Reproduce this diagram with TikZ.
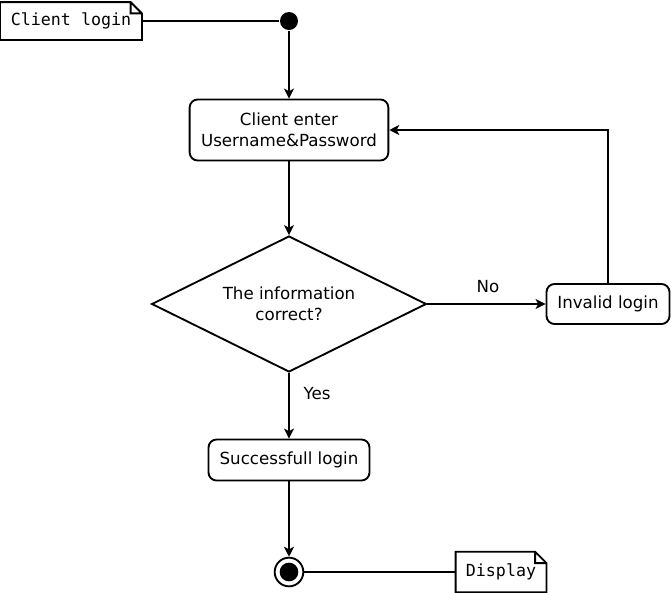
\documentclass[tikz,border=0pt]{standalone}
\usepackage{fontspec}
\setmainfont{DejaVu Sans}
\newfontfamily\notefont{DejaVu Sans Mono}
\usetikzlibrary{shapes.geometric,arrows.meta}
\tikzset{
  state/.style={draw, rounded corners=6pt, align=center, inner sep=0pt},
  decision/.style={draw, diamond, aspect=2, align=center, inner sep=0pt,
    minimum width=206pt, minimum height=102pt},
  initial/.style={circle, fill=black, inner sep=0pt, minimum size=13.5pt},
  final/.style={circle, draw, fill=white, inner sep=0pt, minimum size=21.5pt,
    path picture={\fill[black] (path picture bounding box.center) circle (7pt);}},
  note/.style={font=\notefont\fontsize{12.5}{15}\selectfont, inner sep=0pt,
    append after command={\pgfextra{\draw[line width=1.4pt, line join=miter]
      (\tikzlastnode.south west) -- (\tikzlastnode.north west)
      -- ([xshift=-8.5pt]\tikzlastnode.north east)
      -- ([yshift=-8.5pt]\tikzlastnode.north east)
      -- (\tikzlastnode.south east) -- cycle
      ([xshift=-8.5pt]\tikzlastnode.north east)
      |- ([yshift=-8.5pt]\tikzlastnode.north east);}}}
}
\begin{document}
\begin{tikzpicture}[x=0.75pt, y=-0.75pt, line width=1.4pt,
  font=\fontsize{12.5}{15.75}\selectfont]
  \useasboundingbox (0,0) rectangle (672,593);
  \draw
    (71,21) node[note, minimum width=105pt, minimum height=27pt] (clientnote){Client login}
    (289,21) node[initial] (start){}
    (289,130) node[state, minimum width=149pt, minimum height=45.75pt] (enter){Client enter\\Username\&Password}
    (289,304) node[decision] (check){The information\\correct?}
    (608,304) node[state, minimum width=92.25pt, minimum height=30pt] (invalid){Invalid login}
    (289,460) node[state, minimum width=120.75pt, minimum height=30.75pt] (success){Successfull login}
    (289,572) node[final] (stop){}
    (501,572) node[note, minimum width=66.75pt, minimum height=29pt] (displaynote){Display}
    (488,287) node (no){No}
    (317,394) node (yes){Yes};
  \begin{scope}[-{Stealth[length=7.5pt, width=7.5pt, inset=2pt]}]
    \draw (start) to (enter);
    \draw (enter) to (check);
    \draw (check) to (invalid);
    \draw (invalid) |- (enter);
    \draw (check) to (success);
    \draw (success) to (stop);
  \end{scope}
  \begin{scope}[-]
    \draw (clientnote) to (start);
    \draw (stop) to (displaynote);
  \end{scope}
\end{tikzpicture}
\end{document}
